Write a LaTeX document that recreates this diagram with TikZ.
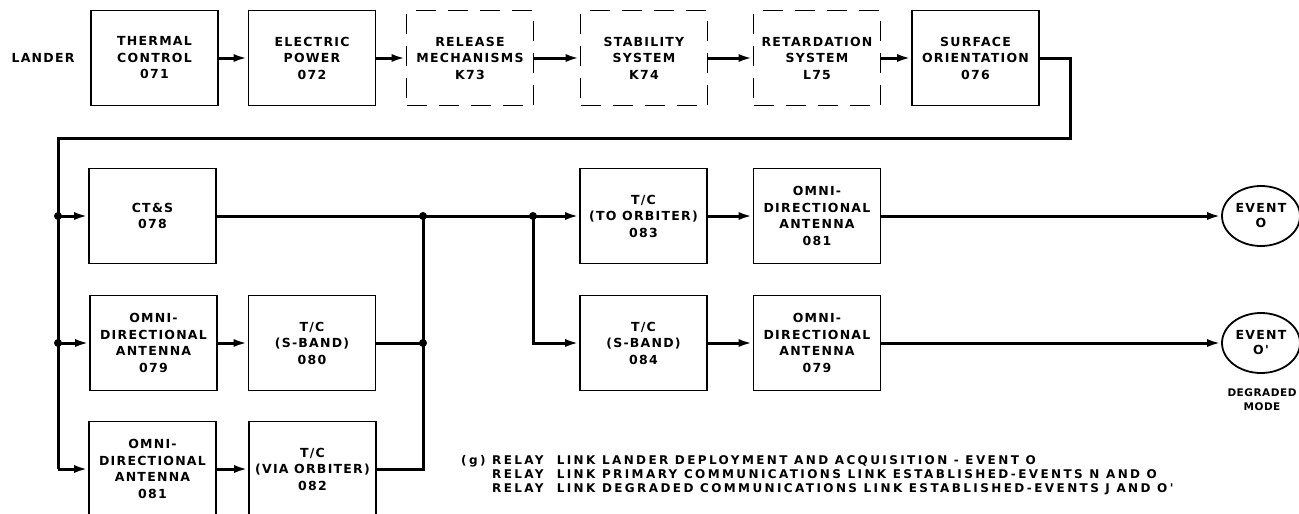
\documentclass[tikz,border=0pt]{standalone}
\usepackage{fontspec}
\setmainfont{DejaVu Sans}
\newfontfamily\leroy[LetterSpace=10]{DejaVu Sans Bold}
\newfontfamily\leroynote[LetterSpace=20]{DejaVu Sans Bold}
\newfontfamily\leroytight[LetterSpace=5]{DejaVu Sans Bold}
\usetikzlibrary{arrows.meta,shapes.geometric}
\tikzset{
  blk/.style={draw, line width=1.8pt, minimum width=127pt, minimum height=95pt,
    inner sep=0pt, align=center, font=\leroy\fontsize{12.5}{16.5}\selectfont},
  dblk/.style={blk, dash pattern=on 20pt off 12pt},
  link/.style={line width=3pt},
  flow/.style={link, -{Latex[length=14pt,width=8pt]}},
  jn/.style={circle, fill, inner sep=0pt, minimum size=8pt},
  evt/.style={ellipse, draw, line width=1.8pt, minimum width=78pt, minimum height=60pt,
    inner sep=0pt, align=center, font=\leroy\fontsize{12.5}{15}\selectfont},
  lbl/.style={align=center, font=\leroy\fontsize{12.5}{15}\selectfont},
}
\begin{document}
\begin{tikzpicture}[x=1pt, y=-1pt]
  \clip (0,0) rectangle (1299,514);

  % top row
  \node[lbl] (lander) at (43,58) {LANDER};
  \node[blk]  (thermal)   at (154.5,58) {THERMAL\\CONTROL\\071};
  \node[blk]  (electric)  at (312,58)   {ELECTRIC\\POWER\\072};
  \node[dblk] (release)   at (470,58)   {RELEASE\\MECHANISMS\\K73};
  \node[dblk] (stability) at (644,58)   {STABILITY\\SYSTEM\\K74};
  \node[dblk] (retard)    at (817,58)   {RETARDATION\\SYSTEM\\L75};
  \node[blk]  (surface)   at (975.5,58) {SURFACE\\ORIENTATION\\076};
  \draw[flow] (thermal) -- (electric);
  \draw[flow] (electric) -- (release);
  \draw[flow] (release) -- (stability);
  \draw[flow] (stability) -- (retard);
  \draw[flow] (retard) -- (surface);

  % feed round to the left bus
  \coordinate (c1) at (1070,58);
  \coordinate (c2) at (1070,138);
  \coordinate (c3) at (58,138);
  \coordinate (c4) at (58,469);
  \node[jn] (ja) at (58,216) {};
  \node[jn] (jb) at (58,343) {};
  \draw[link] (surface.east) -- (c1) -- (c2) -- (c3) -- (c4);

  % left column
  \node[blk] (ctas)  at (152.5,216) {CT\&S\\078};
  \node[blk] (omniA) at (153.5,343) {OMNI-\\DIRECTIONAL\\ANTENNA\\079};
  \node[blk] (tcS)   at (312,343)   {T/C\\(S-BAND)\\080};
  \node[blk] (omniB) at (152.5,469) {OMNI-\\DIRECTIONAL\\ANTENNA\\081};
  \node[blk] (tcVia) at (312.5,469) {T/C\\(VIA ORBITER)\\082};
  \draw[flow] (ja.center) -- (ctas);
  \draw[flow] (jb.center) -- (omniA);
  \draw[flow] (c4) -- (omniB);
  \draw[flow] (omniA) -- (tcS);
  \draw[flow] (omniB) -- (tcVia);

  % right bus and split
  \node[jn] (jc) at (423,216) {};
  \node[jn] (jd) at (423,343) {};
  \node[jn] (je) at (533,216) {};
  \node[blk] (tcOrb) at (643.5,216) {T/C\\(TO ORBITER)\\083};
  \node[blk] (omniC) at (817,216)   {OMNI-\\DIRECTIONAL\\ANTENNA\\081};
  \node[blk] (tcS2)  at (643.5,343) {T/C\\(S-BAND)\\084};
  \node[blk] (omniD) at (817,343)   {OMNI-\\DIRECTIONAL\\ANTENNA\\079};
  \draw[flow] (ctas.east) -- (tcOrb.west);
  \draw[link] (tcS.east) -- (jd.center);
  \draw[link] (tcVia.east) -| (jc.center);
  \draw[flow] (je.center) |- (tcS2.west);
  \draw[flow] (tcOrb) -- (omniC);
  \draw[flow] (tcS2) -- (omniD);

  % events
  \node[evt] (evO)  at (1261,216) {EVENT\\O};
  \node[evt] (evOp) at (1261,343) {EVENT\\O'};
  \node[align=center, font=\leroytight\fontsize{10.5}{14}\selectfont] (mode) at (1262,400) {DEGRADED\\MODE};
  \draw[flow] (omniC) -- (evO);
  \draw[flow] (omniD) -- (evOp);

  % notes
  \node[anchor=north west, align=left, inner sep=0pt,
    font=\leroynote\fontsize{12}{14}\selectfont] (note) at (461,455)
    {(g) RELAY\ \ LINK LANDER DEPLOYMENT AND ACQUISITION - EVENT O\\
     \phantom{(g) }RELAY\ \ LINK PRIMARY COMMUNICATIONS LINK ESTABLISHED-EVENTS N AND O\\
     \phantom{(g) }RELAY\ \ LINK DEGRADED COMMUNICATIONS LINK ESTABLISHED-EVENTS J AND O'};
\end{tikzpicture}
\end{document}
